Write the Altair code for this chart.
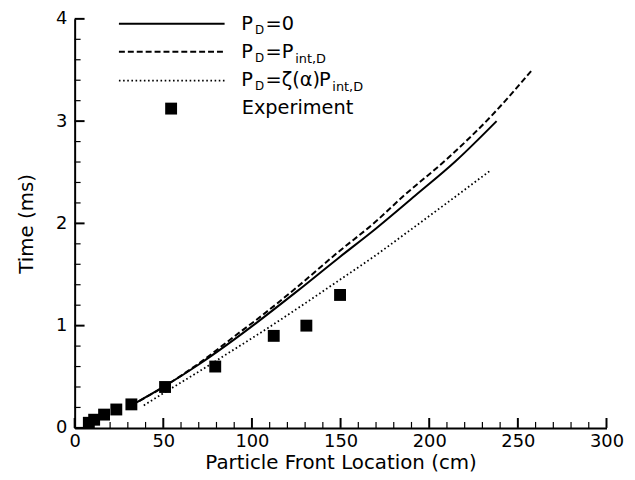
import altair as alt
import pandas as pd

# ---- data ----
x_solid = [32, 51, 70, 92, 102, 125, 148, 170, 192, 215, 238]
t_solid = [0.22, 0.41, 0.62, 0.89, 1.02, 1.33, 1.65, 1.95, 2.27, 2.61, 3.0]

x_dash = [32, 51, 70, 92, 102, 125, 148, 170, 185, 210, 235, 258]
t_dash = [0.22, 0.41, 0.63, 0.92, 1.05, 1.37, 1.71, 2.02, 2.26, 2.63, 3.05, 3.5]

x_dot = [39, 52, 70, 92, 103, 125, 148, 170, 185, 210, 234]
t_dot = [0.22, 0.36, 0.55, 0.79, 0.91, 1.16, 1.43, 1.69, 1.88, 2.2, 2.51]

x_exp = [8, 11, 16.6, 23.5, 32, 51, 79.3, 112.3, 130.7, 149.7]
t_exp = [0.05, 0.08, 0.13, 0.18, 0.23, 0.40, 0.60, 0.90, 1.00, 1.30]

x_major = [0, 50, 100, 150, 200, 250, 300]
x_minor = [v for v in range(10, 300, 10) if v % 50 != 0]
y_major = [0, 1, 2, 3, 4]
y_minor = [0.2, 0.4, 0.6, 0.8, 1.2, 1.4, 1.6, 1.8, 2.2, 2.4, 2.6, 2.8,
           3.2, 3.4, 3.6, 3.8]

FONT = "DejaVu Sans"
W, H = 537, 413

xs = alt.Scale(domain=[0, 300], nice=False, zero=False)
ys = alt.Scale(domain=[0, 4], nice=False, zero=False)

df_solid = pd.DataFrame({"x": x_solid, "t": t_solid})
df_dash = pd.DataFrame({"x": x_dash, "t": t_dash})
df_dot = pd.DataFrame({"x": x_dot, "t": t_dot})
df_exp = pd.DataFrame({"x": x_exp, "t": t_exp})

x_axis = alt.Axis(values=x_major, format="d", title="Particle Front Location (cm)",
                  grid=False, ticks=False, tickSize=0, labelPadding=5,
                  labelFlush=False, labelOverlap=False, titleY=41.5,
                  titleBaseline="alphabetic")
y_axis = alt.Axis(values=y_major, format="d", title="Time (ms)",
                  grid=False, ticks=False, tickSize=0, labelPadding=8,
                  labelFlush=False, labelOverlap=False, titleX=-43,
                  titleBaseline="alphabetic")

X = alt.X("x:Q", scale=xs, axis=x_axis)
Y = alt.Y("t:Q", scale=ys, axis=y_axis)

solid = alt.Chart(df_solid).mark_line(color="black", strokeWidth=2,
                                      interpolate="monotone").encode(x=X, y=Y, order="x:Q")
dash = alt.Chart(df_dash).mark_line(color="black", strokeWidth=2, strokeDash=[6, 3],
                                    interpolate="monotone").encode(x=X, y=Y, order="x:Q")
dot = alt.Chart(df_dot).mark_line(color="black", strokeWidth=1.8, strokeDash=[1.6, 2.6],
                                  interpolate="monotone").encode(x=X, y=Y, order="x:Q")
exp = alt.Chart(df_exp).mark_point(shape="square", filled=True, color="black",
                                   size=144, opacity=1).encode(x=X, y=Y)

# inward ticks
xt_major = alt.Chart(pd.DataFrame({"x": x_major})).mark_rule(color="black", strokeWidth=2).encode(
    x=X, y=alt.value(H), y2=alt.value(H - 10))
xt_minor = alt.Chart(pd.DataFrame({"x": x_minor})).mark_rule(color="black", strokeWidth=1.2).encode(
    x=X, y=alt.value(H), y2=alt.value(H - 6))
yt_major = alt.Chart(pd.DataFrame({"t": y_major})).mark_rule(color="black", strokeWidth=2).encode(
    y=Y, x=alt.value(0), x2=alt.value(10))
yt_minor = alt.Chart(pd.DataFrame({"t": y_minor})).mark_rule(color="black", strokeWidth=1.2).encode(
    y=Y, x=alt.value(0), x2=alt.value(6))

# ---- legend (drawn manually) ----
one = pd.DataFrame({"a": [0]})
ox, oy = 75.3, 16.7  # plot origin on page


def hline(y, **kw):
    return alt.Chart(one).mark_rule(color="black", **kw).encode(
        x=alt.value(120 - ox), x2=alt.value(226.7 - ox), y=alt.value(y - oy))


def txt(s, x, y, size=19.5):
    return alt.Chart(one).mark_text(text=s, align="left", baseline="alphabetic",
                                    font=FONT, fontSize=size, color="black").encode(
        x=alt.value(x - ox), y=alt.value(y - oy))


leg = [
    hline(21.7, strokeWidth=2),
    hline(50.0, strokeWidth=2, strokeDash=[6, 3]),
    hline(79.0, strokeWidth=1.8, strokeDash=[1.6, 2.6]),
    alt.Chart(one).mark_point(shape="square", filled=True, color="black", size=144,
                              opacity=1).encode(x=alt.value(172.7 - ox), y=alt.value(107.3 - oy)),
    # line 1
    txt("P", 243.5, 28.3), txt("D", 257.5, 32.3, 12), txt("=0", 268, 28.3),
    # line 2
    txt("P", 243.5, 56.7), txt("D", 257.5, 60.7, 12), txt("=P", 268, 56.7),
    txt("int,D", 298, 61.7, 13),
    # line 3
    txt("P", 243.5, 84.7), txt("D", 257.5, 88.7, 12), txt("=ζ(α)", 268, 84.7),
    txt("P", 322, 84.7), txt("int,D", 335.5, 89.7, 13),
    # line 4
    txt("Experiment", 244, 112.7),
]

chart = alt.layer(xt_minor, xt_major, yt_minor, yt_major, solid, dash, dot, exp, *leg).properties(
    width=W, height=H,
    padding={"left": 67.3, "top": 8.7, "right": 20.7, "bottom": 46.3},
    autosize=alt.AutoSizeParams(type="none"),
).configure_view(strokeWidth=0).configure_axis(
    labelFont=FONT, titleFont=FONT, labelFontSize=18, titleFontSize=20,
    labelColor="black", titleColor="black", titleFontWeight="normal",
    domainColor="black", domainWidth=2,
)

chart.save("out.html", embed_options={"renderer": "svg", "actions": False})
